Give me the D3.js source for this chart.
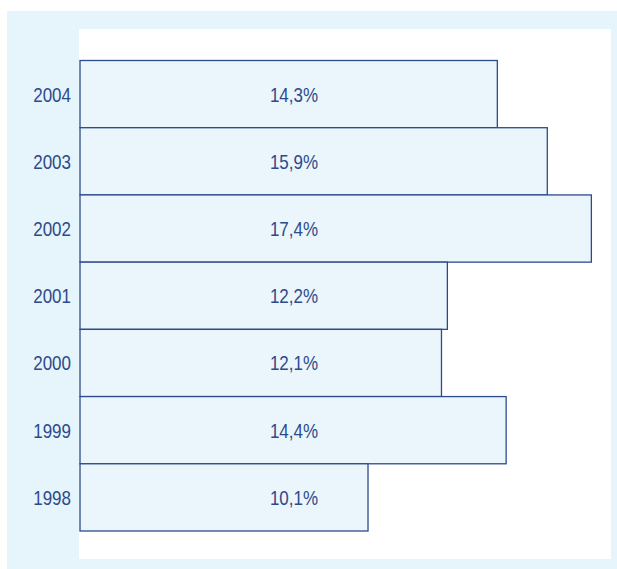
<!DOCTYPE html>
<html>
<head>
<meta charset="utf-8">
<script src="https://cdn.jsdelivr.net/npm/d3@7"></script>
<style>
  body { margin: 0; background: #fff; }
  svg { display: block; }
  text { font-family: "Liberation Sans", Arial, sans-serif; fill: #2d4a8a; }
</style>
</head>
<body>
<svg id="svg1" width="617" height="569"></svg>
<script>
// years, top to bottom
var years = ['2004', '2003', '2002', '2001', '2000', '1999', '1998'];
// bar lengths (percent)
var values = [14.2, 15.9, 17.4, 12.5, 12.3, 14.5, 9.8];
// printed labels
var labels = ['14,3%', '15,9%', '17,4%', '12,2%', '12,1%', '14,4%', '10,1%'];

var width = 617;
var height = 569;

var svg = d3.select('#svg1');

// outer panel
svg.append('rect')
    .attr('x', 7).attr('y', 11)
    .attr('width', width - 7).attr('height', height - 11)
    .attr('fill', '#e6f4fc');

// plot area
svg.append('rect')
    .attr('x', 79).attr('y', 29)
    .attr('width', 611 - 79).attr('height', 559 - 29)
    .attr('fill', '#ffffff');

var scaleX = d3.scaleLinear().domain([0, 18]).range([80, 609]);
var scaleY = d3.scaleBand().domain(years).range([60.5, 531]).padding(0);

svg.selectAll('rect.bar')
    .data(years)
    .enter()
    .append('rect')
    .attr('class', 'bar')
    .attr('x', scaleX(0))
    .attr('y', function (d) { return scaleY(d); })
    .attr('width', function (d, i) { return scaleX(values[i]) - scaleX(0); })
    .attr('height', scaleY.bandwidth())
    .attr('fill', '#eaf5fc')
    .attr('stroke', '#2d4a8a')
    .attr('stroke-width', 1.3);

// year labels
svg.selectAll('text.year')
    .data(years)
    .enter()
    .append('text')
    .attr('class', 'year')
    .attr('transform', function (d) {
        return 'translate(71,' + (scaleY(d) + scaleY.bandwidth() / 2 + 7.5) + ') scale(1,1.2)';
    })
    .attr('text-anchor', 'end')
    .style('font-size', '17px')
    .text(function (d) { return d; });

// value labels
svg.selectAll('text.val')
    .data(years)
    .enter()
    .append('text')
    .attr('class', 'val')
    .attr('transform', function (d) {
        return 'translate(294,' + (scaleY(d) + scaleY.bandwidth() / 2 + 7.5) + ') scale(1,1.2)';
    })
    .attr('text-anchor', 'middle')
    .style('font-size', '17px')
    .text(function (d, i) { return labels[i]; });
</script>
</body>
</html>
